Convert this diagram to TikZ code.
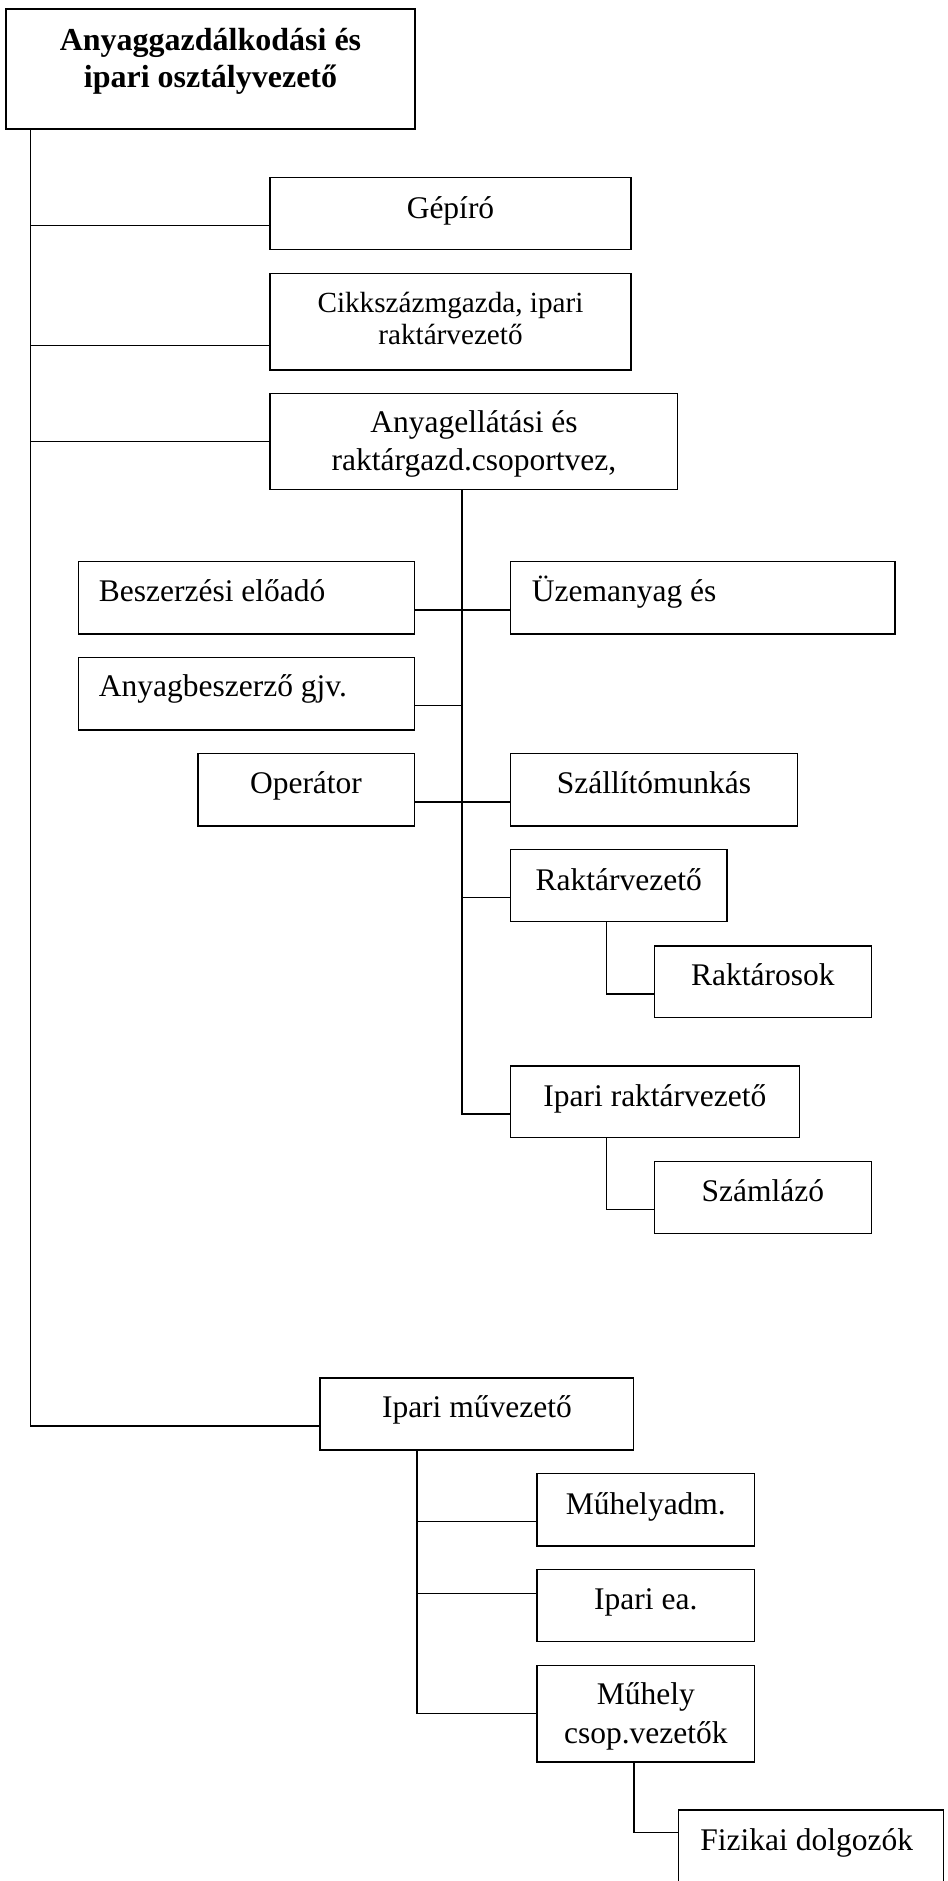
\documentclass[tikz,border=0pt]{standalone}
\usepackage{fontspec}
\setmainfont{Liberation Serif}
\usetikzlibrary{fit}
\begin{document}
% one unit = one pixel of a 948 x 1881 sheet, y grows downward
\begin{tikzpicture}[x=0.5pt,y=-0.5pt,
  box/.style={draw,line width=0.7pt,rectangle,inner sep=0pt,outer sep=0pt},
  txt/.style={inner sep=0pt,anchor=base,font=\fontsize{15.75}{18.9}\selectfont},
  ltxt/.style={txt,anchor=base west},
  small/.style={txt,font=\fontsize{14.6}{17.5}\selectfont},
  head/.style={txt,font=\fontsize{16}{19.2}\selectfont\bfseries},
  link/.style={line width=0.7pt}]
\useasboundingbox (0,0) rectangle (948,1881);
\clip (0,0) rectangle (948,1881);
\fill[white] (0,0) rectangle (948,1881);

% boxes
\node[box,fit={(6,9) (415,129)}] (title) {};
\node[box,fit={(270,177.3) (631,249.3)}] (gepiro) {};
\node[box,fit={(270,273.3) (631,370)}] (cikk) {};
\node[box,fit={(270,393.3) (677.7,489.3)}] (anyag) {};
\node[box,fit={(78.5,561.7) (414.4,634)}] (besz) {};
\node[box,fit={(510.4,561.7) (895,634)}] (uzem) {};
\node[box,fit={(78.5,657.3) (414.4,730)}] (anyagb) {};
\node[box,fit={(198,753.7) (414.4,826)}] (oper) {};
\node[box,fit={(510.4,753.7) (797.3,826)}] (szall) {};
\node[box,fit={(510.4,849.3) (727,921.7)}] (rakv) {};
\node[box,fit={(654.5,946) (871.3,1017.7)}] (rakt) {};
\node[box,fit={(510.4,1066) (799.3,1137.7)}] (iprv) {};
\node[box,fit={(654.5,1161.7) (871.3,1233.7)}] (szaml) {};
\node[box,fit={(320,1377.8) (633.7,1450)}] (muvez) {};
\node[box,fit={(537,1473.3) (754.6,1546)}] (muhadm) {};
\node[box,fit={(537,1569.6) (754.6,1641.5)}] (ipea) {};
\node[box,fit={(537,1665.6) (754.6,1761.9)}] (muhcs) {};
\node[box,fit={(678.3,1810) (943.3,1884)}] (fiz) {};

% labels
\node[head] (title-a) at (210.5,50.7) {Anyaggazdálkodási és};
\node[head] (title-b) at (210.5,87.3) {ipari osztályvezető};
\node[txt] (gepiro-t) at (450.5,218.3) {Gépíró};
\node[small] (cikk-a) at (450.5,312.3) {Cikkszázmgazda, ipari};
\node[small] (cikk-b) at (450.5,344.3) {raktárvezető};
\node[txt] (anyag-a) at (474,432) {Anyagellátási és};
\node[txt] (anyag-b) at (474,470) {raktárgazd.csoportvez,};
\node[ltxt] (besz-t) at (98.5,601.7) {Beszerzési előadó};
\node[ltxt] (uzem-t) at (531.5,601.7) {Üzemanyag és};
\node[ltxt] (anyagb-t) at (98.5,696.7) {Anyagbeszerző gjv.};
\node[txt] (oper-t) at (306,793) {Operátor};
\node[txt] (szall-t) at (653.9,793) {Szállítómunkás};
\node[txt] (rakv-t) at (618.7,890) {Raktárvezető};
\node[txt] (rakt-t) at (762.9,985.7) {Raktárosok};
\node[txt] (iprv-t) at (654.9,1106) {Ipari raktárvezető};
\node[txt] (szaml-t) at (762.9,1201.7) {Számlázó};
\node[txt] (muvez-t) at (476.9,1417.8) {Ipari művezető};
\node[txt] (muhadm-t) at (645.8,1514) {Műhelyadm.};
\node[txt] (ipea-t) at (645.8,1609.3) {Ipari ea.};
\node[txt] (muhcs-a) at (645.8,1704.8) {Műhely};
\node[txt] (muhcs-b) at (645.8,1743.3) {csop.vezetők};
\node[txt] (fiz-t) at (806.7,1850) {Fizikai dolgozók};

% main trunk from the head of department
\coordinate (trunk) at ([xshift=12.3pt]title.south west);
\draw[link] (trunk) |- ([yshift=-6pt]muvez.west);
\draw[link] ([yshift=-6pt]gepiro.west) -- ([yshift=-6pt]gepiro.west -| trunk);
\draw[link] ([yshift=-12pt]cikk.west) -- ([yshift=-12pt]cikk.west -| trunk);
\draw[link] (anyag.west) -- (anyag.west -| trunk);

% supply and warehouse group
\coordinate (sub) at ([xshift=-6pt]anyag.south);
\draw[link] (sub) |- ([yshift=-6pt]iprv.west);
\draw[link] ([yshift=-6pt]besz.east) -- ([yshift=-6pt]uzem.west);
\draw[link] ([yshift=-6pt]anyagb.east) -- ([yshift=-6pt]anyagb.east -| sub);
\draw[link] ([yshift=-6pt]oper.east) -- ([yshift=-6pt]szall.west);
\draw[link] ([yshift=-6pt]rakv.west) -- ([yshift=-6pt]rakv.west -| sub);
\draw[link] ([xshift=-6pt]rakv.south) |- ([yshift=-6pt]rakt.west);
\draw[link] ([xshift=-24.2pt]iprv.south) |- ([yshift=-6pt]szaml.west);

% workshop group
\coordinate (shop) at ([xshift=-30pt]muvez.south);
\draw[link] (shop) |- (muhcs.west);
\draw[link] ([yshift=-6pt]muhadm.west) -- ([yshift=-6pt]muhadm.west -| shop);
\draw[link] ([yshift=6pt]ipea.west) -- ([yshift=6pt]ipea.west -| shop);
\draw[link] ([xshift=-6pt]muhcs.south) |- ([yshift=7.15pt]fiz.west);
\end{tikzpicture}
\end{document}
